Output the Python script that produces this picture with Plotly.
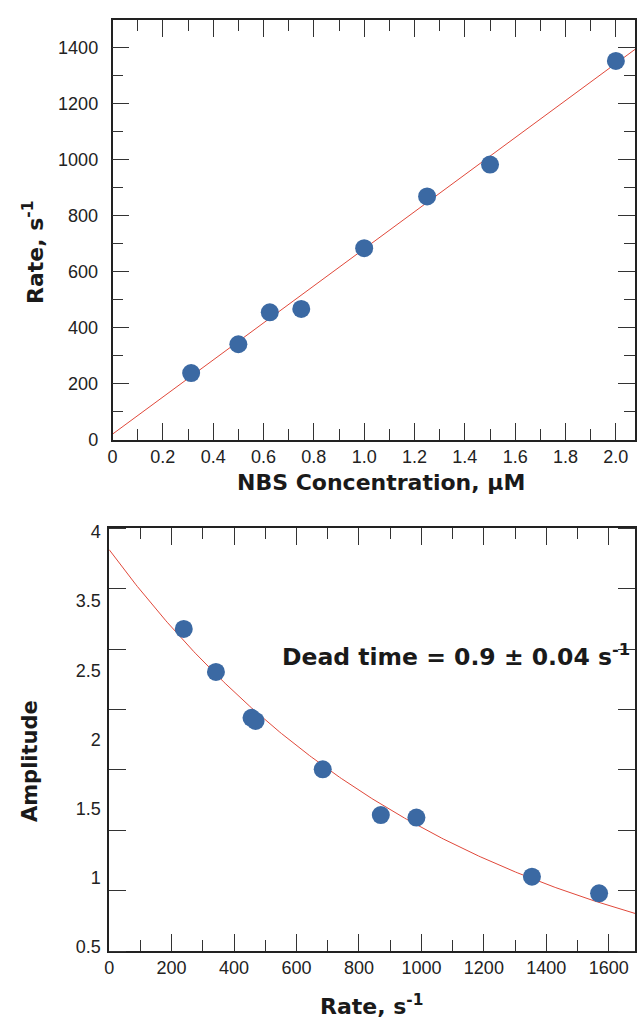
import numpy as np
import plotly.graph_objects as go

# ---------------- data ----------------
nbs_conc = [0.3125, 0.5, 0.625, 0.75, 1.0, 1.25, 1.5, 2.0]          # µM
obs_rate = [238, 341, 455, 467, 684, 869, 983, 1353]                  # s^-1

amp_rate = [239, 342, 456, 469, 684, 870, 984, 1354, 1569]            # s^-1
amplitude = [3.167, 2.811, 2.431, 2.405, 2.005, 1.626, 1.605, 1.116, 0.978]

# linear fit of rate vs concentration
lin_intercept = 20.0
lin_slope = 662.0
lin_x_ends = [0.0, 2.076]

# exponential (dead time) fit of amplitude vs rate
exp_a0 = 3.823
exp_dead_time = 0.00092
exp_rate_span = [0.0, 1684.0]

# tick labels
top_x_ticks = [0, 0.2, 0.4, 0.6, 0.8, 1.0, 1.2, 1.4, 1.6, 1.8, 2.0]
top_x_text = ["0", "0.2", "0.4", "0.6", "0.8", "1.0", "1.2", "1.4", "1.6", "1.8", "2.0"]
bot_y_label_pos = [3.975, 3.398, 2.820, 2.250, 1.680, 1.105, 0.533]
bot_y_label_text = ["4", "3.5", "2.5", "2", "1.5", "1", "0.5"]
bot_y_tick_marks = [0.5, 1.0, 1.5, 2.0, 2.5, 3.0, 3.5, 4.0]

# ---------------- styling ----------------
W, H = 637, 1028
FONT = "Liberation Sans, Arial, Helvetica, sans-serif"
TFONT = "DejaVu Sans, Liberation Sans, Arial, sans-serif"
AX = "#222222"
MARK = "#3b69a3"
FIT = "#e0483a"

fit_x = np.array(lin_x_ends)
fit_y = lin_intercept + lin_slope * fit_x
exp_x = np.linspace(exp_rate_span[0], exp_rate_span[1], 300)
exp_y = exp_a0 * np.exp(-exp_dead_time * exp_x)

fig = go.Figure()
fig.add_trace(go.Scatter(x=fit_x, y=fit_y, mode="lines",
                         line=dict(color=FIT, width=1), xaxis="x", yaxis="y",
                         showlegend=False, hoverinfo="skip"))
fig.add_trace(go.Scatter(x=nbs_conc, y=obs_rate, mode="markers",
                         marker=dict(color=MARK, size=18), xaxis="x", yaxis="y",
                         showlegend=False))
fig.add_trace(go.Scatter(x=exp_x, y=exp_y, mode="lines",
                         line=dict(color=FIT, width=1), xaxis="x2", yaxis="y2",
                         showlegend=False, hoverinfo="skip"))
fig.add_trace(go.Scatter(x=amp_rate, y=amplitude, mode="markers",
                         marker=dict(color=MARK, size=18), xaxis="x2", yaxis="y2",
                         showlegend=False))

common = dict(showline=True, linecolor=AX, linewidth=1.5, mirror="ticks",
              ticks="inside", ticklen=17, tickwidth=1.2, tickcolor="#333",
              showgrid=False, zeroline=False,
              tickfont=dict(family=FONT, size=18, color=AX))

fig.update_layout(
    width=W, height=H,
    margin=dict(l=0, r=0, t=0, b=0),
    paper_bgcolor="white", plot_bgcolor="white",
    font=dict(family=FONT, color=AX),
    xaxis=dict(domain=[108.7 / W, 1], anchor="y", range=[0, 2.076],
               tickmode="array", tickvals=top_x_ticks, ticktext=top_x_text,
               minor=dict(ticks="inside", ticklen=11, dtick=0.1, tick0=0,
                          tickcolor="#333", tickwidth=1.2),
               **common),
    yaxis=dict(domain=[1 - 440 / H, 1 - 13 / H], anchor="x", range=[0, 1500],
               tickmode="linear", tick0=0, dtick=200, ticklabelstandoff=9,
               minor=dict(ticks="inside", ticklen=11, dtick=100, tick0=0,
                          tickcolor="#333", tickwidth=1.2),
               **common),
    xaxis2=dict(domain=[105.3 / W, 1], anchor="y2", range=[0, 1684],
                tickmode="linear", tick0=0, dtick=200,
                minor=dict(ticks="inside", ticklen=11, dtick=100, tick0=0,
                           tickcolor="#333", tickwidth=1.2),
                **common),
    yaxis2=dict(domain=[1 - 960 / H, 1 - 530 / H], anchor="x2", range=[0.5, 4],
                tickmode="array", tickvals=bot_y_label_pos, ticktext=bot_y_label_text,
                ticklabelstandoff=3,
                minor=dict(ticks="inside", ticklen=17, tickmode="array",
                           tickvals=bot_y_tick_marks, tickcolor="#333", tickwidth=1.2),
                **{**common, "ticks": ""}),
)

def ann(text, x, y, size, angle=0):
    fig.add_annotation(text=text, xref="paper", yref="paper",
                       x=x / W, y=1 - y / H, xanchor="center", yanchor="middle",
                       showarrow=False, textangle=angle,
                       font=dict(family=TFONT, size=size, color="#1a1a1a"))

ann("<b>Rate, s<sup>-1</sup></b>", 28.5, 250, 22, -90)
ann("<b>NBS Concentration, µM</b>", 380, 484, 22)
ann("<b>Amplitude</b>", 26, 767, 21, -90)
ann("<b>Rate, s<sup>-1</sup></b>", 371, 1015, 22)
ann("<b>Dead time = 0.9 ± 0.04 s<sup>-1</sup></b>", 456, 659, 23.5)

page_fix = (
    "var d=document.documentElement, b=document.body;"
    "d.style.margin='0'; d.style.padding='0'; d.style.overflow='hidden';"
    "d.style.width='637px'; d.style.height='1028px';"
    "b.style.margin='0'; b.style.padding='0'; b.style.overflow='hidden';"
    "b.style.width='637px'; b.style.height='1028px';"
    "var g=document.getElementById('{plot_id}');"
    "g.style.position='fixed'; g.style.left='0px'; g.style.top='0px';"
)

fig.write_html("out.html", config={"displayModeBar": False}, post_script=page_fix)
